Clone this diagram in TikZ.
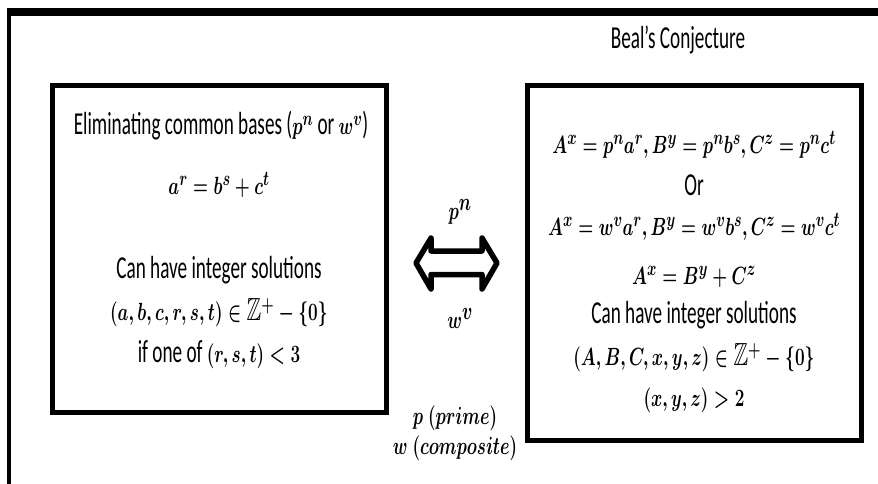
\documentclass[tikz,border=0pt]{standalone}
\usepackage{fontspec}
\setmainfont{Carlito}
\usepackage{amssymb}
\usepackage{graphicx}
\newcommand{\sq}[1]{\scalebox{0.6}[1]{#1}}
\newcommand{\mm}[1]{\scalebox{1.15}[1]{\boldmath$#1$}}
\begin{document}
\begin{tikzpicture}[x=1pt,y=-1pt,
  txt/.style={font=\fontsize{32}{38}\selectfont, inner sep=0pt, anchor=center},
  big/.style={font=\fontsize{44}{50}\selectfont, inner sep=0pt, anchor=center},
  box/.style={draw, line width=5pt, rectangle, inner sep=0pt},
  ]
\useasboundingbox (0,0) rectangle (878,483);
\begin{scope}
\clip (0,0) rectangle (878,483);
\coordinate (fc) at (9,12);
\coordinate (fb) at (9,500);
\coordinate (fr) at (900,12);
\draw[line width=4pt] (fb) -- (fc);
\draw[line width=8pt] ([xshift=-2pt]fc) -- (fr);
\end{scope}

\node[box, minimum width=334pt, minimum height=327pt] (L) at (219,248.5) {};
\node[box, minimum width=334pt, minimum height=355pt] (R) at (694,262.5) {};

\node[txt] (title) at (678,40) {\sq{Beal’s Conjecture}};

\node[txt] (l1) at (221,126) {\sq{Eliminating common bases (\mm{p^n} or \mm{w^v})}};
\node[txt] (l2) at (219,185) {\sq{\mm{a^r = b^s + c^t}}};
\node[txt] (l3) at (219,270) {\sq{Can have integer solutions}};
\node[txt] (l4) at (219,313) {\sq{\mm{(a,b,c,r,s,t) \in \mathbb{Z}^+ - \{0\}}}};
\node[txt] (l5) at (219,355) {\sq{if one of \mm{(r,s,t) < 3}}};

\node[txt] (r1) at (694,145) {\sq{\mm{A^x = p^n a^r, B^y = p^n b^s, C^z = p^n c^t}}};
\node[txt] (r2) at (694,185) {\sq{Or}};
\node[txt] (r3) at (694,227) {\sq{\mm{A^x = w^v a^r, B^y = w^v b^s, C^z = w^v c^t}}};
\node[txt] (r4) at (694,277) {\sq{\mm{A^x = B^y + C^z}}};
\node[txt] (r5) at (694,315) {\sq{Can have integer solutions}};
\node[txt] (r6) at (694,358) {\sq{\mm{(A,B,C,x,y,z) \in \mathbb{Z}^+ - \{0\}}}};
\node[txt] (r7) at (694,400) {\sq{\mm{(x,y,z) > 2}}};

\coordinate (arr) at (456.5,263);
\draw[line width=5.5pt, line join=round, fill=white]
  (416,263) -- (431,238) -- (431,251) -- (482,251) -- (482,238) -- (497,263)
  -- (482,289) -- (482,274.5) -- (431,274.5) -- (431,289) -- cycle;
\node[big] (pn) at (460,212) {\sq{\mm{p^n}}};
\node[big] (wv) at (460,318) {\sq{\mm{w^v}}};
\node[txt] (pp) at (455,418) {\sq{\mm{p\ (prime)}}};
\node[txt] (wc) at (455,448) {\sq{\mm{w\ (composite)}}};
\end{tikzpicture}
\end{document}
